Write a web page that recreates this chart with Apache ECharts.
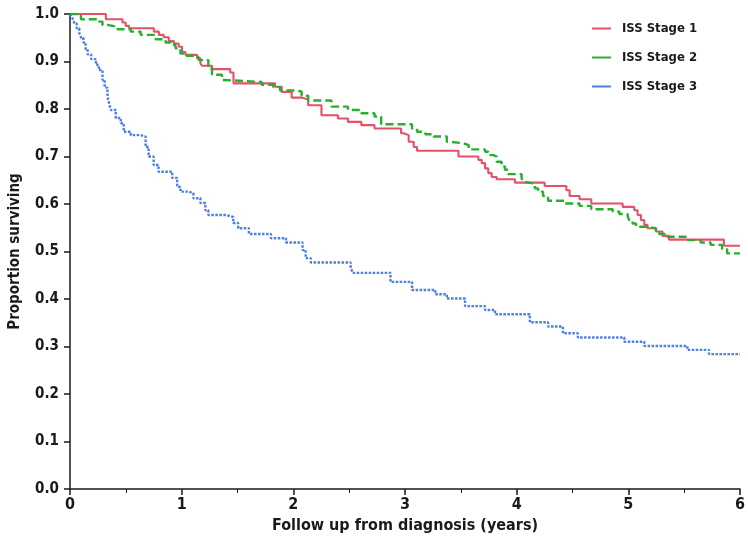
<!DOCTYPE html>
<html>
<head>
<meta charset="utf-8">
<script src="https://cdn.jsdelivr.net/npm/echarts@6/dist/echarts.min.js"></script>
<style>
  html, body { margin: 0; padding: 0; background: #fff; }
  #chart { width: 748px; height: 544px; }
</style>
</head>
<body>
<div id="chart"></div>
<script>
// Kaplan–Meier survival estimates by ISS stage: [years, proportion surviving]
const stage1 = [
  [0, 1.0], [0.321, 0.989], [0.47, 0.982], [0.499, 0.975], [0.529, 0.97],
  [0.751, 0.963], [0.796, 0.956], [0.84, 0.951], [0.885, 0.943], [0.93, 0.938],
  [0.974, 0.931], [1.004, 0.92], [1.034, 0.914], [1.138, 0.907], [1.168, 0.896],
  [1.183, 0.891], [1.272, 0.884], [1.435, 0.877], [1.464, 0.854], [1.836, 0.847],
  [1.896, 0.836], [1.985, 0.824], [2.074, 0.82], [2.133, 0.808], [2.252, 0.787],
  [2.4, 0.78], [2.489, 0.773], [2.609, 0.766], [2.727, 0.759], [2.965, 0.749],
  [2.988, 0.745], [3.033, 0.731], [3.078, 0.72], [3.108, 0.712], [3.479, 0.70],
  [3.657, 0.693], [3.687, 0.686], [3.717, 0.675], [3.746, 0.665], [3.776, 0.657],
  [3.821, 0.652], [3.984, 0.645], [4.251, 0.638], [4.445, 0.629], [4.474, 0.617],
  [4.563, 0.61], [4.668, 0.601], [4.949, 0.594], [5.053, 0.587], [5.083, 0.577],
  [5.113, 0.566], [5.143, 0.556], [5.172, 0.549], [5.247, 0.542], [5.306, 0.533],
  [5.365, 0.525], [5.856, 0.512], [6.0, 0.512]
];
const stage2 = [
  [0, 1.0], [0.098, 0.989], [0.261, 0.984], [0.291, 0.977], [0.336, 0.973],
  [0.425, 0.968], [0.544, 0.963], [0.633, 0.956], [0.766, 0.947], [0.856, 0.94],
  [0.9, 0.935], [0.945, 0.928], [0.989, 0.917], [1.034, 0.912], [1.094, 0.909],
  [1.152, 0.903], [1.239, 0.885], [1.272, 0.872], [1.361, 0.861], [1.381, 0.857],
  [1.717, 0.851], [1.821, 0.846], [1.881, 0.839], [2.014, 0.837], [2.074, 0.828],
  [2.133, 0.818], [2.341, 0.805], [2.489, 0.798], [2.609, 0.791], [2.727, 0.784],
  [2.787, 0.768], [3.063, 0.759], [3.108, 0.752], [3.182, 0.747], [3.256, 0.742],
  [3.375, 0.731], [3.405, 0.728], [3.523, 0.724], [3.57, 0.715], [3.717, 0.71],
  [3.746, 0.703], [3.791, 0.70], [3.821, 0.689], [3.865, 0.679], [3.895, 0.672],
  [3.924, 0.663], [4.044, 0.654], [4.058, 0.647], [4.073, 0.643], [4.162, 0.633],
  [4.192, 0.626], [4.236, 0.617], [4.281, 0.607], [4.43, 0.601], [4.563, 0.596],
  [4.668, 0.589], [4.86, 0.584], [4.92, 0.579], [4.994, 0.574], [5.009, 0.566],
  [5.038, 0.559], [5.069, 0.552], [5.158, 0.549], [5.247, 0.544], [5.276, 0.537],
  [5.336, 0.531], [5.514, 0.524], [5.648, 0.519], [5.737, 0.514], [5.84, 0.505],
  [5.885, 0.496], [6.0, 0.496]
];
const stage3 = [
  [0, 1.0], [0.012, 0.995], [0.024, 0.99], [0.04, 0.98], [0.06, 0.97],
  [0.083, 0.96], [0.1, 0.95], [0.12, 0.94], [0.14, 0.926], [0.158, 0.915],
  [0.19, 0.905], [0.232, 0.893], [0.258, 0.882], [0.291, 0.861], [0.31, 0.845],
  [0.336, 0.826], [0.35, 0.812], [0.365, 0.798], [0.41, 0.781], [0.455, 0.770],
  [0.481, 0.752], [0.544, 0.745], [0.633, 0.742], [0.677, 0.72], [0.704, 0.70],
  [0.749, 0.682], [0.793, 0.668], [0.915, 0.655], [0.96, 0.636], [0.989, 0.626],
  [1.06, 0.623], [1.105, 0.612], [1.168, 0.602], [1.212, 0.587], [1.239, 0.577],
  [1.39, 0.573], [1.462, 0.56], [1.506, 0.549], [1.602, 0.537], [1.80, 0.528],
  [1.934, 0.519], [2.083, 0.503], [2.11, 0.486], [2.157, 0.477], [2.513, 0.468],
  [2.53, 0.455], [2.87, 0.436], [3.063, 0.419], [3.271, 0.41], [3.375, 0.401],
  [3.538, 0.385], [3.717, 0.377], [3.806, 0.368], [4.118, 0.351], [4.281, 0.342],
  [4.414, 0.328], [4.548, 0.319], [4.964, 0.31], [5.143, 0.301], [5.528, 0.293],
  [5.722, 0.284], [6.0, 0.284]
];
const seriesNames = ['ISS Stage 1', 'ISS Stage 2', 'ISS Stage 3'];
const xTitle = 'Follow up from diagnosis (years)';
const yTitle = 'Proportion surviving';

const FONT = 'DejaVu Sans Condensed';
const INK = '#1a1a1a';

const chart = echarts.init(document.getElementById('chart'), null, { renderer: 'canvas' });

chart.setOption({
  animation: false,
  backgroundColor: '#ffffff',
  grid: { left: 67, right: 7, top: 14, bottom: 55, containLabel: false },
  legend: {
    orient: 'vertical',
    left: 587,
    top: 17,
    itemWidth: 19,
    itemHeight: 2,
    itemGap: 16,
    icon: 'rect',
    data: seriesNames,
    textStyle: { fontFamily: FONT, fontSize: 13, fontWeight: 'bold', color: INK, padding: [0, 0, 0, 6] }
  },
  xAxis: {
    type: 'value',
    min: 0, max: 6, interval: 1,
    name: xTitle,
    nameLocation: 'middle',
    nameGap: 29,
    nameTextStyle: { fontFamily: FONT, fontSize: 16, fontWeight: 'bold', color: INK },
    axisLine: { onZero: false, lineStyle: { color: INK, width: 1.5 } },
    axisTick: { show: true, inside: false, length: 6, lineStyle: { color: INK, width: 1.5 } },
    minorTick: { show: true, splitNumber: 2, length: 4, lineStyle: { color: INK, width: 1 } },
    axisLabel: { fontFamily: FONT, fontSize: 16, fontWeight: 'bold', color: INK, margin: 8,
                 formatter: v => String(Math.round(v)) },
    splitLine: { show: false }
  },
  yAxis: {
    type: 'value',
    min: 0, max: 1, interval: 0.1,
    name: yTitle,
    nameLocation: 'middle',
    nameGap: 47,
    nameTextStyle: { fontFamily: FONT, fontSize: 15, fontWeight: 'bold', color: INK },
    axisLine: { show: true, lineStyle: { color: INK, width: 1.5 } },
    axisTick: { show: true, inside: false, length: 6, lineStyle: { color: INK, width: 1.5 } },
    axisLabel: { fontFamily: FONT, fontSize: 15, fontWeight: 'bold', color: INK, margin: 11,
                 formatter: v => v.toFixed(1) },
    splitLine: { show: false }
  },
  series: [
    {
      name: seriesNames[0], type: 'line', step: 'end', data: stage1,
      showSymbol: false, symbol: 'none', color: '#e4516a',
      lineStyle: { color: '#e4516a', width: 2.1, type: 'solid' }, z: 3
    },
    {
      name: seriesNames[1], type: 'line', step: 'end', data: stage2,
      showSymbol: false, symbol: 'none', color: '#26b02e',
      lineStyle: { color: '#26b02e', width: 2.4, type: [8, 4] }, z: 4
    },
    {
      name: seriesNames[2], type: 'line', step: 'end', data: stage3,
      showSymbol: false, symbol: 'none', color: '#4a80e2',
      lineStyle: { color: '#4a80e2', width: 2.4, type: [2.5, 1.5] }, z: 2
    }
  ]
});
</script>
</body>
</html>
